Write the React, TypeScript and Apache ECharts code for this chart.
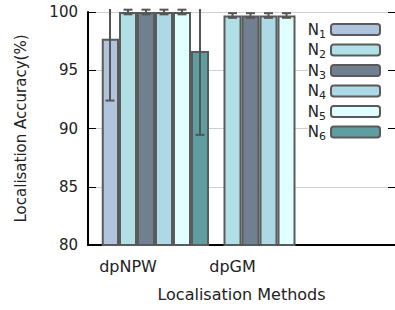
import React, { useEffect, useRef } from "react";
import * as echarts from "echarts";

const categories = ["dpNPW", "dpGM"];
const seriesNames = ["N1", "N2", "N3", "N4", "N5", "N6"];
const seriesColors = ["#b0c4de", "#b0e0e6", "#708090", "#add8e6", "#e0ffff", "#5f9ea0"];
// values per series: [dpNPW, dpGM]
const N1 = [97.7, null];
const N2 = [100, 99.7];
const N3 = [100, 99.7];
const N4 = [100, 99.7];
const N5 = [100, 99.7];
const N6 = [96.65, null];
const seriesValues = [N1, N2, N3, N4, N5, N6];
// error half-widths per series: [dpNPW, dpGM]
const E1 = [5.3, null];
const E2 = [0.2, 0.2];
const E3 = [0.2, 0.2];
const E4 = [0.2, 0.2];
const E5 = [0.2, 0.2];
const E6 = [7.2, null];
const seriesErrors = [E1, E2, E3, E4, E5, E6];
const yTicks = [80, 85, 90, 95, 100];

const FONT = "DejaVu Sans";
const BAR_W = 18;

export default function App() {
  const ref = useRef<HTMLDivElement>(null);
  useEffect(() => {
    if (!ref.current) return;
    const chart = echarts.init(ref.current, null, { renderer: "svg" });
    const yMin = yTicks[0];
    const yMax = yTicks[yTicks.length - 1];
    const interval = yTicks[1] - yTicks[0];

    const errData: any[] = [];
    seriesValues.forEach((vals, k) => {
      vals.forEach((v, c) => {
        const e = seriesErrors[k][c];
        if (v != null && e != null) errData.push([c, k, v, e]);
      });
    });

    const barSeries = seriesNames.map((name, k) => ({
      type: "bar",
      name,
      xAxisIndex: 1,
      yAxisIndex: 2,
      barWidth: BAR_W,
      barGap: "0%",
      data: seriesValues[k].map((v) => (v == null ? "-" : v)),
      itemStyle: { color: seriesColors[k], borderColor: "#5a5a5a", borderWidth: 2 },
      emphasis: { disabled: true },
    }));

    const option: any = {
      animation: false,
      textStyle: { fontFamily: FONT },
      grid: [
        { left: 88, right: 0, top: 12, bottom: 65 },
        { left: 102.75, width: 209, top: 12, bottom: 65 },
      ],
      xAxis: [
        {
          type: "value",
          gridIndex: 0,
          min: 0,
          max: 1,
          axisLine: { show: true, onZero: false, lineStyle: { color: "#000", width: 2 } },
          axisTick: { show: false },
          axisLabel: { show: false },
          splitLine: { show: false },
          name: "Localisation Methods",
          nameLocation: "middle",
          nameGap: 41,
          nameTextStyle: { fontSize: 16, color: "#222", fontFamily: FONT },
        },
        {
          type: "category",
          gridIndex: 1,
          data: categories,
          axisLine: { show: false },
          axisTick: { show: false },
          axisLabel: {
            fontSize: 16,
            color: "#222",
            fontFamily: FONT,
            margin: 13,
            padding: [0, 54, 0, 0],
          },
        },
      ],
      yAxis: [
        {
          type: "value",
          gridIndex: 0,
          min: yMin,
          max: yMax,
          interval,
          axisLine: { show: true, lineStyle: { color: "#000", width: 2 } },
          axisTick: { show: true, inside: true, length: 8, lineStyle: { color: "#000", width: 1 } },
          axisLabel: { fontSize: 15, color: "#222", margin: 10, fontFamily: FONT },
          splitLine: { show: true, lineStyle: { color: "#cfcfcf", width: 1 } },
          name: "Localisation Accuracy(%)",
          nameLocation: "middle",
          nameRotate: 90,
          nameGap: 60,
          nameTextStyle: { fontSize: 15, color: "#222", fontFamily: FONT },
        },
        {
          type: "value",
          gridIndex: 0,
          position: "right",
          min: yMin,
          max: yMax,
          interval,
          axisLine: { show: false },
          axisTick: { show: true, inside: true, length: 7, lineStyle: { color: "#000", width: 1 } },
          axisLabel: { show: false },
          splitLine: { show: false },
        },
        {
          type: "value",
          gridIndex: 1,
          min: yMin,
          max: yMax,
          interval,
          show: false,
          splitLine: { show: false },
        },
      ],
      legend: {
        orient: "vertical",
        right: 7,
        top: 20,
        align: "right",
        itemWidth: 49,
        itemHeight: 11,
        itemGap: 3,
        icon: "roundRect",
        padding: [2, 7, 2, 0],
        backgroundColor: "#fff",
        data: seriesNames,
        formatter: (name: string) => `{n|${name[0]}}{s|${name.slice(1)}}`,
        textStyle: {
          color: "#222",
          fontFamily: FONT,
          rich: {
            n: { fontSize: 15, lineHeight: 20, fontFamily: FONT, color: "#222" },
            s: { fontSize: 11, lineHeight: 10, verticalAlign: "bottom", fontFamily: FONT, color: "#222" },
          },
        },
      },
      series: [
        ...barSeries,
        {
          type: "custom",
          xAxisIndex: 1,
          yAxisIndex: 2,
          data: errData,
          z: 5,
          clip: false,
          renderItem: (params: any, api: any) => {
            const c = api.value(0);
            const k = api.value(1);
            const v = api.value(2);
            const e = api.value(3);
            const base = api.coord([c, v]);
            const x = base[0] + (k - (seriesNames.length - 1) / 2) * BAR_W;
            const yHi = api.coord([c, v + e])[1];
            const yLo = api.coord([c, v - e])[1];
            const top = params.coordSys.y - 3;
            const style = { stroke: "#555", lineWidth: 2 };
            const hw = 4.5;
            const children: any[] = [
              { type: "line", shape: { x1: x, y1: Math.max(yHi, top), x2: x, y2: yLo }, style },
              { type: "line", shape: { x1: x - hw, y1: yLo, x2: x + hw, y2: yLo }, style },
            ];
            if (yHi >= top) {
              children.push({ type: "line", shape: { x1: x - hw, y1: yHi, x2: x + hw, y2: yHi }, style });
            }
            return { type: "group", children };
          },
        },
      ],
    };
    chart.setOption(option);
    return () => chart.dispose();
  }, []);
  return (
    <div
      ref={ref}
      style={{ position: "absolute", left: 0, top: 0, width: 395, height: 310, background: "#fff" }}
    />
  );
}
